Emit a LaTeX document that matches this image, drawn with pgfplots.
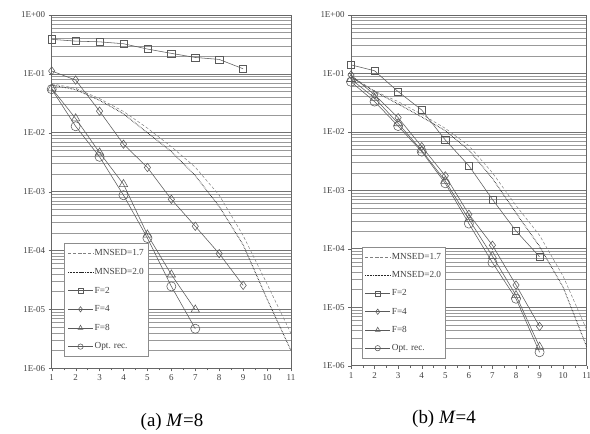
\documentclass[border=0pt]{standalone}
\usepackage{pgfplots}
\pgfplotsset{compat=1.18}
\usepackage{fontspec}
\setmainfont{Liberation Serif}
\definecolor{ln}{HTML}{5A5A5A}
\tikzset{
  sF2/.style={color=ln, mark=square, mark size=3.6pt, mark options={solid, fill=white}},
  sF4/.style={color=ln, mark=diamond, mark size=4.2pt, mark options={solid, fill=white}},
  sF8/.style={color=ln, mark=triangle, mark size=4.8pt, mark options={solid, fill=white}},
  sOpt/.style={color=ln, mark=o, mark size=4.6pt, mark options={solid, fill=white}},
  sM17/.style={color=black!50, dash pattern=on 3pt off 2pt, line width=0.5pt},
  sM20/.style={color=black!85, densely dotted, line width=0.9pt},
}
\begin{document}
\begin{tikzpicture}[x=1bp,y=1bp]
\path[use as bounding box] (0,0) rectangle (590,434);
% ---------------- (a) M=8
\begin{axis}[ymode=log, scale only axis,
    xmin=1, xmax=11, ymin=1e-6, ymax=1,
    xtick={1,2,...,11},
    extra x ticks={1.5,2.5,3.5,4.5,5.5,6.5,7.5,8.5,9.5,10.5},
    extra x tick labels={},
    extra x tick style={major tick length=2bp, grid=none},
    ytick={1,0.1,0.01,0.001,0.0001,0.00001,0.000001},
    yticklabels={1E+00,1E-01,1E-02,1E-03,1E-04,1E-05,1E-06},
    minor ytick={2e-6,3e-6,4e-6,5e-6,6e-6,7e-6,8e-6,9e-6,2e-5,3e-5,4e-5,5e-5,6e-5,7e-5,8e-5,9e-5,2e-4,3e-4,4e-4,5e-4,6e-4,7e-4,8e-4,9e-4,2e-3,3e-3,4e-3,5e-3,6e-3,7e-3,8e-3,9e-3,0.02,0.03,0.04,0.05,0.06,0.07,0.08,0.09,0.2,0.3,0.4,0.5,0.6,0.7,0.8,0.9},
    xtick pos=left, ytick pos=left, tick align=outside,
    major tick length=3bp, minor tick length=0bp,
    ymajorgrids, yminorgrids,
    major grid style={draw=black!55, line width=0.6pt},
    minor grid style={draw=black!40, line width=0.5pt},
    axis line style={draw=black!60, line width=0.6pt},
    tick style={draw=black!60},
    /pgf/number format/assume math mode=true,
    tick label style={font=\fontsize{9}{10}\selectfont, text=black!75},
    legend cell align=left,
    legend style={draw=black!45, fill=white, font=\fontsize{9.3}{10}\selectfont,
      text=black!75, row sep=8.6bp, inner xsep=3bp, inner ysep=5bp,
      nodes={inner sep=1.2bp}},
    legend image code/.code={\draw[mark repeat=2,mark phase=2,mark size=2.7pt] plot coordinates {(0cm,0cm) (0.44cm,0cm) (0.88cm,0cm)};},
    every axis plot/.append style={line width=0.55pt},
  at={(51.7bp,65.7bp)}, anchor=south west,
  width=239.3bp, height=353.3bp,
  legend style={at={(rel axis cs:0.053,0.354)}, anchor=north west}]
\addplot[sM17, mark=none] coordinates {(1,0.068)(2,0.057)(3,0.038)(4,0.023)(5,0.012)(6,0.0058)(7,0.0026)(8,0.00087)(9,0.00018)(10,0.000027)(11,0.0000039)};
\addlegendentry{MNSED=1.7}
\addplot[sM20, mark=none] coordinates {(1,0.065)(2,0.054)(3,0.0356)(4,0.021)(5,0.010)(6,0.0048)(7,0.00187)(8,0.00056)(9,0.000125)(10,0.000015)(11,0.000002)};
\addlegendentry{MNSED=2.0}
\addplot[sF2] coordinates {(1,0.386)(2,0.36)(3,0.35)(4,0.325)(5,0.264)(6,0.223)(7,0.19)(8,0.176)(9,0.122)};
\addlegendentry{F=2}
\addplot[sF4] coordinates {(1,0.112)(2,0.0785)(3,0.0233)(4,0.0064)(5,0.00257)(6,0.00074)(7,0.000258)(8,0.0000885)(9,0.0000256)};
\addlegendentry{F=4}
\addplot[sF8] coordinates {(1,0.0567)(2,0.0175)(3,0.0046)(4,0.00134)(5,0.000186)(6,0.000039)(7,0.0000099)};
\addlegendentry{F=8}
\addplot[sOpt] coordinates {(1,0.055)(2,0.0129)(3,0.0039)(4,0.00087)(5,0.000163)(6,0.0000246)(7,0.0000047)};
\addlegendentry{Opt. rec.}
\node[rotate=90, font=\fontsize{9}{10}\selectfont, text=black!75] at ([xshift=-30bp]rel axis cs:0,0.5) {BER};
\node[font=\fontsize{9}{10}\selectfont, text=black!75] at ([yshift=-24bp]rel axis cs:0.52,0) {$E_b/N_0$ [dB]};
\end{axis}
% ---------------- (b) M=4
\begin{axis}[ymode=log, scale only axis,
    xmin=1, xmax=11, ymin=1e-6, ymax=1,
    xtick={1,2,...,11},
    extra x ticks={1.5,2.5,3.5,4.5,5.5,6.5,7.5,8.5,9.5,10.5},
    extra x tick labels={},
    extra x tick style={major tick length=2bp, grid=none},
    ytick={1,0.1,0.01,0.001,0.0001,0.00001,0.000001},
    yticklabels={1E+00,1E-01,1E-02,1E-03,1E-04,1E-05,1E-06},
    minor ytick={2e-6,3e-6,4e-6,5e-6,6e-6,7e-6,8e-6,9e-6,2e-5,3e-5,4e-5,5e-5,6e-5,7e-5,8e-5,9e-5,2e-4,3e-4,4e-4,5e-4,6e-4,7e-4,8e-4,9e-4,2e-3,3e-3,4e-3,5e-3,6e-3,7e-3,8e-3,9e-3,0.02,0.03,0.04,0.05,0.06,0.07,0.08,0.09,0.2,0.3,0.4,0.5,0.6,0.7,0.8,0.9},
    xtick pos=left, ytick pos=left, tick align=outside,
    major tick length=3bp, minor tick length=0bp,
    ymajorgrids, yminorgrids,
    major grid style={draw=black!55, line width=0.6pt},
    minor grid style={draw=black!40, line width=0.5pt},
    axis line style={draw=black!60, line width=0.6pt},
    tick style={draw=black!60},
    /pgf/number format/assume math mode=true,
    tick label style={font=\fontsize{9}{10}\selectfont, text=black!75},
    legend cell align=left,
    legend style={draw=black!45, fill=white, font=\fontsize{9.3}{10}\selectfont,
      text=black!75, row sep=8.2bp, inner xsep=3bp, inner ysep=5bp,
      nodes={inner sep=1.2bp}},
    legend image code/.code={\draw[mark repeat=2,mark phase=2,mark size=2.7pt] plot coordinates {(0cm,0cm) (0.44cm,0cm) (0.88cm,0cm)};},
    every axis plot/.append style={line width=0.55pt},
  at={(351bp,68.3bp)}, anchor=south west,
  width=235.7bp, height=350.7bp,
  legend style={at={(rel axis cs:0.045,0.339)}, anchor=north west}]
\addplot[sM17, mark=none] coordinates {(1,0.09)(2,0.05)(3,0.033)(4,0.02)(5,0.0115)(6,0.0058)(7,0.0020)(8,0.00055)(9,0.00017)(10,0.000034)(11,0.0000041)};
\addlegendentry{MNSED=1.7}
\addplot[sM20, mark=none] coordinates {(1,0.087)(2,0.049)(3,0.030)(4,0.018)(5,0.0105)(6,0.0049)(7,0.0016)(8,0.00041)(9,0.00011)(10,0.000022)(11,0.0000021)};
\addlegendentry{MNSED=2.0}
\addplot[sF2] coordinates {(1,0.14)(2,0.111)(3,0.0488)(4,0.0237)(5,0.00727)(6,0.00264)(7,0.0007)(8,0.000202)(9,0.000073)};
\addlegendentry{F=2}
\addplot[sF4] coordinates {(1,0.094)(2,0.043)(3,0.0175)(4,0.0056)(5,0.00177)(6,0.00039)(7,0.000115)(8,0.000024)(9,0.0000047)};
\addlegendentry{F=4}
\addplot[sF8] coordinates {(1,0.08)(2,0.038)(3,0.014)(4,0.0048)(5,0.00145)(6,0.00032)(7,0.000075)(8,0.000016)(9,0.0000021)};
\addlegendentry{F=8}
\addplot[sOpt] coordinates {(1,0.072)(2,0.033)(3,0.0126)(4,0.0046)(5,0.00132)(6,0.00027)(7,0.000058)(8,0.000014)(9,0.0000017)};
\addlegendentry{Opt. rec.}
\node[rotate=90, font=\fontsize{9}{10}\selectfont, text=black!75] at ([xshift=-39bp]rel axis cs:0,0.5) {BER};
\node[font=\fontsize{9}{10}\selectfont, text=black!75] at ([yshift=-24bp]rel axis cs:0.52,0) {$E_b/N_0$ [dB]};
\end{axis}
\node[font=\fontsize{19}{22}\selectfont] at (172,12) {(a) \textit{M}=8};
\node[font=\fontsize{19}{22}\selectfont] at (444,15) {(b) \textit{M}=4};
\end{tikzpicture}
\end{document}
